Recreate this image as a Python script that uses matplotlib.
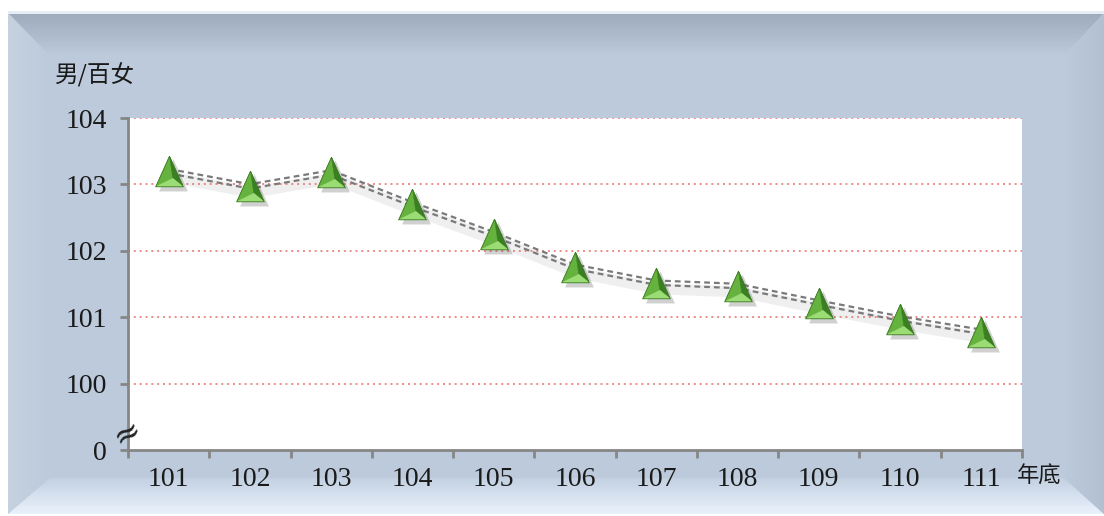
import matplotlib
matplotlib.use("Agg")
import matplotlib.pyplot as plt
import matplotlib.transforms as mtransforms
from matplotlib.patches import Polygon
from matplotlib.path import Path
import numpy as np

# data
years = ["101", "102", "103", "104", "105", "106", "107", "108", "109", "110", "111"]
ratio = [103.20, 102.97, 103.18, 102.70, 102.25, 101.76, 101.52, 101.47, 101.22, 100.98, 100.78]
ytick_values = [99, 100, 101, 102, 103, 104]
ytick_labels = ["0", "100", "101", "102", "103", "104"]

W, H = 1104, 516
fig = plt.figure(figsize=(W / 100, H / 100), dpi=100)
fig.patch.set_facecolor("white")

# background frame (bevelled panel)
bg = fig.add_axes([0, 0, 1, 1])
bg.set_xlim(0, W)
bg.set_ylim(H, 0)
bg.axis("off")

face = "#bccadb"
bg.add_patch(Polygon([(8, 12), (W, 12), (W, 514), (8, 514)], closed=True, fc=face, ec="none"))


def gradient_poly(pts, c_from, c_to, vertical=True):
    poly = Polygon(pts, closed=True, fc="none", ec="none")
    bg.add_patch(poly)
    c1 = np.array(matplotlib.colors.to_rgb(c_from))
    c2 = np.array(matplotlib.colors.to_rgb(c_to))
    t = np.linspace(0, 1, 64)
    if vertical:
        img = (c1[None, :] * (1 - t[:, None]) + c2[None, :] * t[:, None])[:, None, :]
    else:
        img = (c1[None, :] * (1 - t[:, None]) + c2[None, :] * t[:, None])[None, :, :]
    xs = [p[0] for p in pts]
    ys = [p[1] for p in pts]
    im = bg.imshow(img, extent=(min(xs), max(xs), max(ys), min(ys)), aspect="auto",
                   interpolation="bilinear", zorder=1)
    im.set_clip_path(poly)


# top bevel
gradient_poly([(8, 13), (W, 13), (1064, 56), (50, 56)], "#9eabbd", "#bccadb")
# left bevel
gradient_poly([(8, 13), (50, 56), (50, 478), (8, 514)], "#c6d2e0", "#bccadb", vertical=False)
# bottom bevel
gradient_poly([(8, 514), (50, 478), (1064, 478), (W, 514)], "#c3d1e2", "#eaf2fc")
# right bevel
gradient_poly([(W, 13), (1064, 56), (1064, 478), (W, 514)], "#bccadb", "#b2c0d1", vertical=False)
bg.add_patch(Polygon([(8, 11), (W, 11), (W, 14), (8, 14)], closed=True, fc="#e6edf5", ec="none", zorder=2))

# main plot
ax = fig.add_axes([128 / W, 1 - 450 / H, (1022 - 128) / W, (450 - 118) / H])
ax.set_facecolor("white")
x = np.arange(1, len(years) + 1)
ax.set_xlim(0.5, len(years) + 0.5)
ax.set_ylim(99, 104)

for v in ytick_values[1:]:
    ax.axhline(v, color="#f08a8a", linestyle=(0, (1, 2)), linewidth=1.4, zorder=1)

for s in ["top", "right"]:
    ax.spines[s].set_visible(False)
for s in ["left", "bottom"]:
    ax.spines[s].set_color("#868686")
    ax.spines[s].set_linewidth(2)

ax.set_yticks(ytick_values)
ax.set_yticklabels(ytick_labels)
ax.set_xticks(x)
ax.set_xticklabels(years)
ax.set_xticks(np.arange(0.5, len(years) + 1, 1), minor=True)
ax.tick_params(axis="x", which="major", length=0, pad=12)
ax.tick_params(axis="x", which="minor", length=6, width=2, color="#868686", direction="out")
ax.tick_params(axis="y", length=6, width=2, color="#868686", pad=9)
for lab in ax.get_xticklabels() + ax.get_yticklabels():
    lab.set_fontfamily("Liberation Serif")
    lab.set_fontsize(20)
    lab.set_color("#1a1a1a")

# line: soft shadow + double dashed grey line
tr = ax.transData
shadow_tr = mtransforms.offset_copy(tr, fig=fig, x=2, y=-6, units="dots")
ax.plot(x, ratio, color="#888888", alpha=0.13, linewidth=8, transform=shadow_tr, zorder=2,
        solid_capstyle="round")
for dy in (-2.2, 2.2):
    ax.plot(x, ratio, color="#7a7a7a", linewidth=1.6, linestyle=(0, (2.6, 1.8)),
            transform=mtransforms.offset_copy(tr, fig=fig, x=0, y=dy, units="dots"), zorder=3)

# pyramid markers built from three facets sharing one frame
apex, bl, br, inner = (0, 1), (-0.9, -1), (0.9, -1), (0.22, -0.45)
facets = [
    ([apex, bl, inner], "#65b23f"),
    ([apex, inner, br], "#3a7f22"),
    ([bl, br, inner], "#9bdc74"),
]
mk = 22
ax.plot(x, ratio, linestyle="none", marker=Path([apex, bl, br, apex]), markersize=mk + 1,
        color="#444444", alpha=0.25, markeredgewidth=0,
        transform=mtransforms.offset_copy(tr, fig=fig, x=4, y=-4, units="dots"), zorder=4)
for verts, col in facets:
    ax.plot(x, ratio, linestyle="none", marker=Path(verts + [verts[0]]), markersize=mk,
            markerfacecolor=col, markeredgecolor=col, markeredgewidth=0.4, zorder=5)
ax.plot(x, ratio, linestyle="none", marker=Path([apex, bl, br, apex]), markersize=mk,
        markerfacecolor="none", markeredgecolor="#3d7a22", markeredgewidth=0.6, zorder=6)

# axis break symbol
ax.text(0.0, 0.05, "≈", transform=ax.transAxes, rotation=30, ha="center", va="center",
        fontsize=24, color="#222222", family="DejaVu Serif", zorder=7, clip_on=False)

# unit labels
fig.text(55 / W, 1 - 75 / H, "男/百女", family=["Noto Sans CJK TC", "DejaVu Sans"],
         fontsize=17, color="#1a1a1a", ha="left", va="center")
fig.text(1017 / W, 1 - 476 / H, "年底", family=["Noto Sans CJK TC", "DejaVu Sans"],
         fontsize=16, color="#1a1a1a", ha="left", va="center")

fig.savefig("out.png", dpi=100)
